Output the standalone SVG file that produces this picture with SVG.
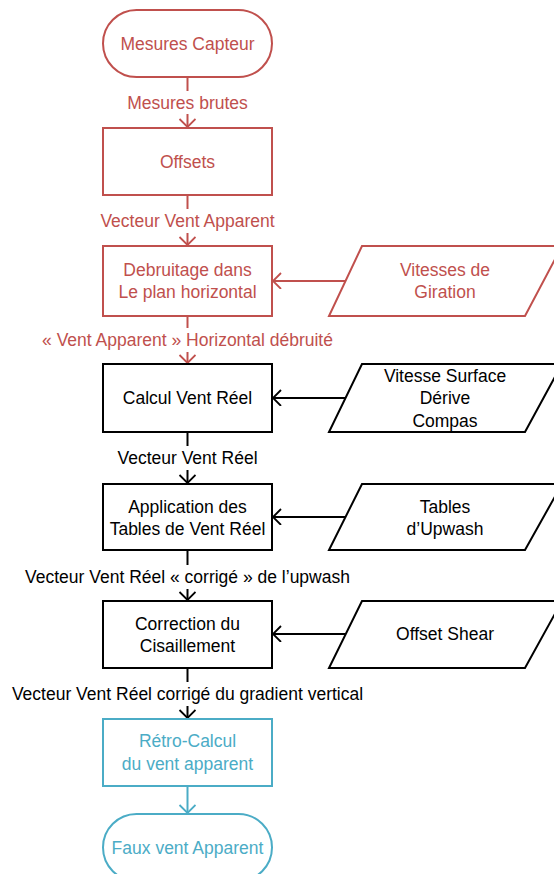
<svg xmlns="http://www.w3.org/2000/svg" width="554" height="874" viewBox="0 0 554 874">
<defs>
<style>
text{font-family:"Liberation Sans",Arial,sans-serif;font-size:17.5px;text-anchor:middle;dominant-baseline:central}
.r{stroke:#C0504D;fill:#fff;stroke-width:2}
.k{stroke:#000;fill:#fff;stroke-width:2}
.b{stroke:#4BACC6;fill:#fff;stroke-width:2}
.tr{fill:#C0504D}
.tk{fill:#000}
.tb{fill:#4BACC6}
.lr{stroke:#C0504D;stroke-width:2;fill:none}
.lk{stroke:#000;stroke-width:2;fill:none}
.lb{stroke:#4BACC6;stroke-width:2;fill:none}
</style>
<marker id="ar" markerUnits="userSpaceOnUse" markerWidth="20" markerHeight="20" refX="9" refY="8" orient="auto"><path d="M1,0 L9,8 L1,16" fill="none" stroke="#C0504D" stroke-width="1.8"/></marker>
<marker id="ak" markerUnits="userSpaceOnUse" markerWidth="20" markerHeight="20" refX="9" refY="8" orient="auto"><path d="M1,0 L9,8 L1,16" fill="none" stroke="#000" stroke-width="1.8"/></marker>
<marker id="ab" markerUnits="userSpaceOnUse" markerWidth="20" markerHeight="20" refX="9" refY="8" orient="auto"><path d="M1,0 L9,8 L1,16" fill="none" stroke="#4BACC6" stroke-width="1.8"/></marker>
</defs>
<g id="connectors">
<line class="lr" x1="187.5" y1="77" x2="187.5" y2="91"/>
<line class="lr" x1="187.5" y1="114" x2="187.5" y2="127" marker-end="url(#ar)"/>
<text class="tr" x="187.5" y="103">Mesures brutes</text>
<line class="lr" x1="187.5" y1="195" x2="187.5" y2="209"/>
<line class="lr" x1="187.5" y1="233" x2="187.5" y2="245" marker-end="url(#ar)"/>
<text class="tr" x="187.5" y="221">Vecteur Vent Apparent</text>
<line class="lr" x1="187.5" y1="316" x2="187.5" y2="328"/>
<line class="lr" x1="187.5" y1="352" x2="187.5" y2="363" marker-end="url(#ar)"/>
<text class="tr" x="187.5" y="340">« Vent Apparent » Horizontal débruité</text>
<line class="lk" x1="187.5" y1="432" x2="187.5" y2="446"/>
<line class="lk" x1="187.5" y1="470" x2="187.5" y2="483" marker-end="url(#ak)"/>
<text class="tk" x="187.5" y="458">Vecteur Vent Réel</text>
<line class="lk" x1="187.5" y1="550" x2="187.5" y2="565"/>
<line class="lk" x1="187.5" y1="589" x2="187.5" y2="600" marker-end="url(#ak)"/>
<text class="tk" x="187.5" y="577">Vecteur Vent Réel « corrigé » de l’upwash</text>
<line class="lk" x1="187.5" y1="668" x2="187.5" y2="682"/>
<line class="lk" x1="187.5" y1="706" x2="187.5" y2="718" marker-end="url(#ak)"/>
<text class="tk" x="187.5" y="694">Vecteur Vent Réel corrigé du gradient vertical</text>
<line class="lb" x1="187.5" y1="786" x2="187.5" y2="813" marker-end="url(#ab)"/>
<line class="lr" x1="345.5" y1="281" x2="273" y2="281" marker-end="url(#ar)"/>
<line class="lk" x1="345.5" y1="398" x2="273" y2="398" marker-end="url(#ak)"/>
<line class="lk" x1="345.5" y1="517" x2="273" y2="517" marker-end="url(#ak)"/>
<line class="lk" x1="345.5" y1="634" x2="273" y2="634" marker-end="url(#ak)"/>
</g>
<g id="n1"><rect class="r" x="103" y="10" width="169" height="67" rx="33.5"/><text class="tr" x="187.5" y="44">Mesures Capteur</text></g>
<g id="n2"><rect class="r" x="103" y="128" width="169" height="67"/><text class="tr" x="187.5" y="162">Offsets</text></g>
<g id="n3"><rect class="r" x="103" y="246" width="169" height="70"/><text class="tr" x="187.5" y="270">Debruitage dans</text><text class="tr" x="187.5" y="292">Le plan horizontal</text></g>
<g id="n4"><polygon class="r" points="362,246 562,246 525,316 329,316"/><text class="tr" x="445" y="270">Vitesses de</text><text class="tr" x="445" y="292">Giration</text></g>
<g id="n5"><rect class="k" x="103" y="364" width="169" height="68"/><text class="tk" x="187.5" y="398">Calcul Vent Réel</text></g>
<g id="n6"><polygon class="k" points="362,364 562,364 525,432 329,432"/><text class="tk" x="445" y="376">Vitesse Surface</text><text class="tk" x="445" y="398">Dérive</text><text class="tk" x="445" y="421">Compas</text></g>
<g id="n7"><rect class="k" x="103" y="484" width="169" height="66"/><text class="tk" x="187.5" y="507">Application des</text><text class="tk" x="187.5" y="529">Tables de Vent Réel</text></g>
<g id="n8"><polygon class="k" points="362,484 562,484 525,550 329,550"/><text class="tk" x="445" y="507">Tables</text><text class="tk" x="445" y="529">d’Upwash</text></g>
<g id="n9"><rect class="k" x="103" y="601" width="169" height="67"/><text class="tk" x="187.5" y="624">Correction du</text><text class="tk" x="187.5" y="646">Cisaillement</text></g>
<g id="n10"><polygon class="k" points="362,601 562,601 525,668 329,668"/><text class="tk" x="445" y="634">Offset Shear</text></g>
<g id="n11"><rect class="b" x="103" y="719" width="169" height="67"/><text class="tb" x="187.5" y="741">Rétro-Calcul</text><text class="tb" x="187.5" y="764">du vent apparent</text></g>
<g id="n12"><rect class="b" x="103" y="814" width="169" height="67" rx="33.5"/><text class="tb" x="187.5" y="848">Faux vent Apparent</text></g>
</svg>
